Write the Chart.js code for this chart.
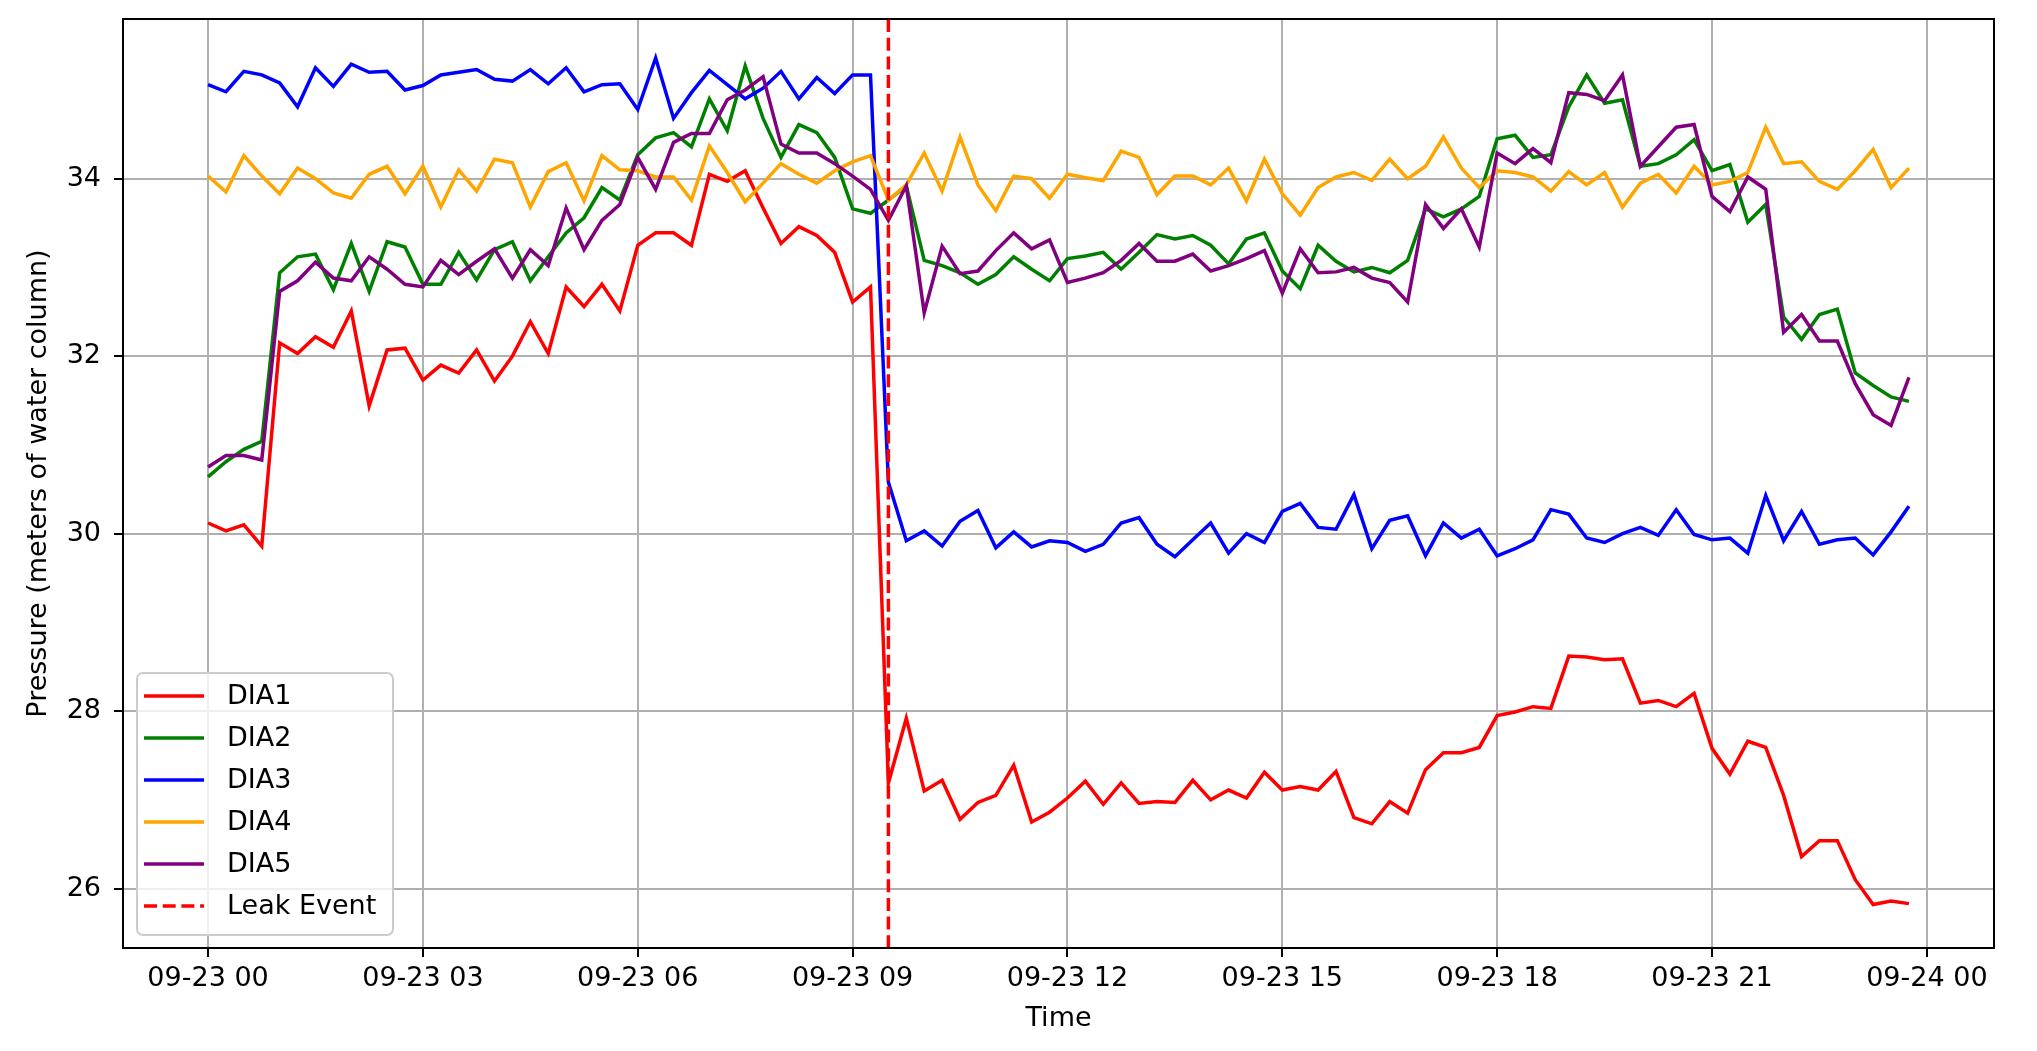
<!DOCTYPE html>
<html>
<head>
<meta charset="utf-8">
<title>Pressure at DIA sensors and leak event</title>
<script src="https://cdn.jsdelivr.net/npm/chart.js@4.4.1/dist/chart.umd.min.js"></script>
<style>
  html, body { margin: 0; padding: 0; background: #ffffff; }
  canvas { display: block; }
</style>
</head>
<body>
<canvas id="pressureChart" width="2037" height="1051"></canvas>
<script>
// sampling: one reading every 15 minutes, 09-23 00:00 .. 23:45 (hours since midnight)
const timeHours = Array.from({ length: 96 }, (_, i) => i * 0.25);

const dia1 = [
  30.12, 30.03, 30.10, 29.86, 32.15, 32.03, 32.22, 32.10, 32.51, 31.44, 32.07, 32.09, 31.73,
  31.90, 31.81, 32.07, 31.72, 32.00, 32.39, 32.03, 32.78, 32.56, 32.81, 32.51, 33.25,
  33.39, 33.39, 33.25, 34.05, 33.97, 34.09, 33.67, 33.27, 33.46, 33.36, 33.17, 32.61,
  32.78, 27.19, 27.92, 27.10, 27.22, 26.78, 26.97, 27.05, 27.39, 26.75, 26.86, 27.02,
  27.21, 26.95, 27.19, 26.96, 26.98, 26.97, 27.22, 27.00, 27.11, 27.02, 27.31, 27.11,
  27.15, 27.11, 27.32, 26.80, 26.73, 26.98, 26.85, 27.34, 27.53, 27.53, 27.59, 27.95,
  27.99, 28.05, 28.03, 28.62, 28.61, 28.58, 28.59, 28.09, 28.12, 28.05, 28.20, 27.58,
  27.29, 27.66, 27.59, 27.05, 26.36, 26.54, 26.54, 26.10, 25.82, 25.86, 25.83
];
const dia2 = [
  30.64, 30.81, 30.95, 31.04, 32.94, 33.12, 33.15, 32.75, 33.27, 32.73, 33.29, 33.23, 32.81,
  32.81, 33.17, 32.86, 33.20, 33.29, 32.85, 33.12, 33.39, 33.56, 33.90, 33.76, 34.27,
  34.46, 34.52, 34.36, 34.90, 34.54, 35.27, 34.68, 34.24, 34.61, 34.52, 34.24, 33.66,
  33.61, 33.76, 33.92, 33.08, 33.02, 32.94, 32.81, 32.92, 33.12, 32.98, 32.85, 33.10,
  33.13, 33.17, 32.98, 33.17, 33.37, 33.32, 33.36, 33.25, 33.04, 33.32, 33.39, 32.96,
  32.76, 33.25, 33.07, 32.95, 33.00, 32.94, 33.08, 33.66, 33.57, 33.66, 33.80, 34.45,
  34.49, 34.24, 34.27, 34.81, 35.17, 34.85, 34.89, 34.14, 34.17, 34.27, 34.44, 34.09,
  34.16, 33.51, 33.71, 32.44, 32.19, 32.47, 32.53, 31.81, 31.67, 31.54, 31.49
];
const dia3 = [
  35.06, 34.98, 35.21, 35.17, 35.08, 34.81, 35.25, 35.04, 35.29, 35.20, 35.21, 35.00, 35.05,
  35.17, 35.20, 35.23, 35.12, 35.10, 35.23, 35.07, 35.25, 34.98, 35.06, 35.07, 34.78,
  35.36, 34.68, 34.97, 35.22, 35.06, 34.90, 35.02, 35.21, 34.90, 35.14, 34.96, 35.17,
  35.17, 30.58, 29.92, 30.03, 29.86, 30.14, 30.26, 29.84, 30.02, 29.85, 29.92, 29.90,
  29.80, 29.88, 30.12, 30.18, 29.88, 29.74, 29.93, 30.12, 29.78, 30.00, 29.90, 30.25,
  30.34, 30.07, 30.05, 30.44, 29.83, 30.15, 30.20, 29.75, 30.12, 29.95, 30.05, 29.75,
  29.83, 29.93, 30.27, 30.22, 29.95, 29.90, 30.00, 30.07, 29.98, 30.27, 29.99, 29.93,
  29.95, 29.78, 30.43, 29.92, 30.25, 29.88, 29.93, 29.95, 29.76, 30.02, 30.31
];
const dia4 = [
  34.03, 33.85, 34.26, 34.03, 33.83, 34.12, 34.00, 33.84, 33.78, 34.05, 34.14, 33.83, 34.14,
  33.68, 34.10, 33.86, 34.22, 34.18, 33.68, 34.08, 34.18, 33.75, 34.26, 34.10, 34.09,
  34.02, 34.02, 33.76, 34.37, 34.07, 33.74, 33.95, 34.17, 34.05, 33.95, 34.09, 34.19,
  34.26, 33.76, 33.93, 34.29, 33.86, 34.47, 33.93, 33.64, 34.03, 34.00, 33.78, 34.05,
  34.01, 33.98, 34.31, 34.24, 33.82, 34.03, 34.03, 33.93, 34.12, 33.75, 34.22, 33.83,
  33.59, 33.90, 34.02, 34.07, 33.98, 34.22, 34.00, 34.14, 34.47, 34.12, 33.90, 34.09,
  34.07, 34.02, 33.86, 34.08, 33.93, 34.07, 33.68, 33.95, 34.05, 33.84, 34.14, 33.93,
  33.97, 34.07, 34.58, 34.17, 34.19, 33.97, 33.88, 34.09, 34.33, 33.90, 34.12
];
const dia5 = [
  30.75, 30.88, 30.88, 30.83, 32.73, 32.85, 33.06, 32.88, 32.85, 33.12, 32.98, 32.81, 32.78,
  33.08, 32.92, 33.07, 33.21, 32.88, 33.20, 33.02, 33.67, 33.20, 33.53, 33.71, 34.24,
  33.88, 34.41, 34.51, 34.51, 34.89, 35.00, 35.15, 34.39, 34.29, 34.29, 34.17, 34.03,
  33.88, 33.53, 33.92, 32.49, 33.24, 32.93, 32.96, 33.19, 33.39, 33.21, 33.31, 32.83,
  32.88, 32.94, 33.08, 33.27, 33.07, 33.07, 33.15, 32.96, 33.02, 33.10, 33.19, 32.71,
  33.21, 32.94, 32.95, 33.00, 32.88, 32.83, 32.61, 33.71, 33.44, 33.66, 33.23, 34.29,
  34.17, 34.34, 34.18, 34.97, 34.95, 34.88, 35.17, 34.14, 34.36, 34.58, 34.61, 33.80,
  33.63, 34.02, 33.88, 32.27, 32.47, 32.17, 32.17, 31.69, 31.34, 31.22, 31.76
];

const seriesNames = ['DIA1', 'DIA2', 'DIA3', 'DIA4', 'DIA5'];
const seriesValues = [dia1, dia2, dia3, dia4, dia5];
const seriesColors = ['#ff0000', '#008000', '#0000ff', '#ffa500', '#800080'];

const leakHour = 9.5;
const leakLabel = 'Leak Event';

const xTickHours = [0, 3, 6, 9, 12, 15, 18, 21, 24];
const xTickLabels = ['09-23 00', '09-23 03', '09-23 06', '09-23 09', '09-23 12',
                     '09-23 15', '09-23 18', '09-23 21', '09-24 00'];
const yTickValues = [26, 28, 30, 32, 34];

const FONT = "'DejaVu Sans', sans-serif";
const DASH = [13, 5.7];

// dashed vertical marker at the leak time, through the x scale
const leakLine = {
  id: 'leakLine',
  afterDatasetsDraw(chart) {
    const { ctx, chartArea, scales } = chart;
    const x = scales.x.getPixelForValue(leakHour);
    ctx.save();
    ctx.strokeStyle = '#ff0000';
    ctx.lineWidth = 3.5;
    ctx.setLineDash(DASH);
    ctx.beginPath();
    ctx.moveTo(x, chartArea.top);
    ctx.lineTo(x, chartArea.bottom);
    ctx.stroke();
    ctx.restore();
  }
};

// black frame on all four sides, like matplotlib spines
const frame = {
  id: 'frame',
  afterDatasetsDraw(chart) {
    const { ctx, chartArea: a } = chart;
    ctx.save();
    ctx.strokeStyle = '#000';
    ctx.lineWidth = 2;
    ctx.strokeRect(a.left, a.top, a.right - a.left, a.bottom - a.top);
    ctx.restore();
  }
};

// legend box in the lower left corner of the plot
const legendBox = {
  id: 'legendBox',
  afterDraw(chart) {
    const { ctx, chartArea: a } = chart;
    const entries = chart.data.datasets.map(ds => ({ label: ds.label, color: ds.borderColor, dash: [] }));
    entries.push({ label: leakLabel, color: '#ff0000', dash: DASH });

    const w = 256, rowH = 42, h = 262;
    const x0 = a.left + 14, y0 = a.bottom - 13 - h;
    ctx.save();
    ctx.beginPath();
    ctx.roundRect(x0, y0, w, h, 6);
    ctx.fillStyle = 'rgba(255,255,255,0.8)';
    ctx.fill();
    ctx.strokeStyle = '#cccccc';
    ctx.lineWidth = 2;
    ctx.stroke();

    ctx.font = '27px ' + FONT;
    ctx.textBaseline = 'middle';
    ctx.textAlign = 'left';
    entries.forEach((e, i) => {
      const cy = y0 + 23 + i * rowH;
      ctx.strokeStyle = e.color;
      ctx.lineWidth = 3.5;
      ctx.setLineDash(e.dash);
      ctx.beginPath();
      ctx.moveTo(x0 + 7, cy);
      ctx.lineTo(x0 + 67, cy);
      ctx.stroke();
      ctx.setLineDash([]);
      ctx.fillStyle = '#000';
      ctx.fillText(e.label, x0 + 90, cy + 1);
    });
    ctx.restore();
  }
};

const datasets = seriesNames.map((name, i) => ({
  label: name,
  data: timeHours.map((t, k) => ({ x: t, y: seriesValues[i][k] })),
  borderColor: seriesColors[i],
  backgroundColor: seriesColors[i],
  borderWidth: 3.5,
  pointRadius: 0,
  tension: 0,
  fill: false,
  order: seriesNames.length - i
}));

new Chart(document.getElementById('pressureChart'), {
  type: 'line',
  data: { datasets },
  options: {
    responsive: false,
    animation: false,
    devicePixelRatio: 1,
    layout: { padding: { top: 19, right: 43, bottom: 0, left: 0 } },
    plugins: {
      legend: { display: false },
      tooltip: { enabled: false }
    },
    scales: {
      x: {
        type: 'linear',
        min: -1.1875,
        max: 24.9375,
        afterBuildTicks: scale => { scale.ticks = xTickHours.map(v => ({ value: v })); },
        afterFit: scale => {
          scale.height = 103;
          scale.paddingLeft = 0;
          scale.paddingRight = 0;
        },
        grid: { color: '#b0b0b0', lineWidth: 2, tickColor: '#000', tickWidth: 2, tickLength: 9 },
        border: { display: false },
        ticks: {
          autoSkip: false,
          maxRotation: 0,
          padding: 6,
          color: '#000',
          font: { family: FONT, size: 27 },
          callback: (value, index) => xTickLabels[index]
        },
        title: {
          display: true,
          text: 'Time',
          color: '#000',
          font: { family: FONT, size: 27 },
          padding: { top: 0, bottom: 16 }
        }
      },
      y: {
        type: 'linear',
        min: 25.33,
        max: 35.8,
        afterBuildTicks: scale => { scale.ticks = yTickValues.map(v => ({ value: v })); },
        afterFit: scale => {
          scale.width = 123;
          scale.paddingTop = 0;
          scale.paddingBottom = 0;
        },
        grid: { color: '#b0b0b0', lineWidth: 2, tickColor: '#000', tickWidth: 2, tickLength: 9 },
        border: { display: false },
        ticks: {
          padding: 13,
          color: '#000',
          font: { family: FONT, size: 27 },
          callback: value => String(value)
        },
        title: {
          display: true,
          text: 'Pressure (meters of water column)',
          color: '#000',
          font: { family: FONT, size: 27 },
          padding: { top: 23, bottom: 0 }
        }
      }
    }
  },
  plugins: [leakLine, frame, legendBox]
});
</script>
</body>
</html>
